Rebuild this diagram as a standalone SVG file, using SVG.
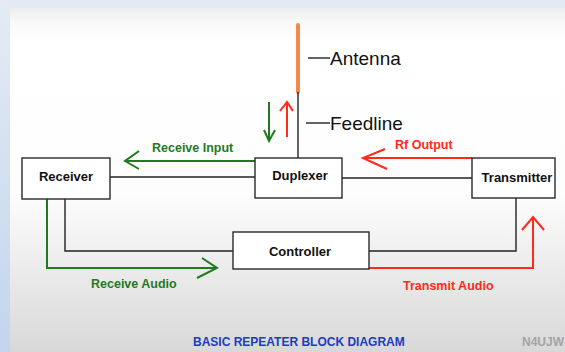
<svg xmlns="http://www.w3.org/2000/svg" width="565" height="352" viewBox="0 0 565 352">
  <defs>
    <linearGradient id="bg" x1="0" y1="0" x2="0" y2="1">
      <stop offset="0" stop-color="#e6e6e6"/>
      <stop offset="0.06" stop-color="#f8f8f8"/>
      <stop offset="0.12" stop-color="#ffffff"/>
      <stop offset="0.55" stop-color="#fdfdfd"/>
      <stop offset="1" stop-color="#d8d8d8"/>
    </linearGradient>
    <linearGradient id="side" x1="0" y1="0" x2="0" y2="1">
      <stop offset="0" stop-color="#e4ebf4"/>
      <stop offset="1" stop-color="#c3d5ec"/>
    </linearGradient>
  </defs>
  <style>
    .box { fill: #ffffff; stroke: #2a2a2a; stroke-width: 1.4; }
    .lbl { font-family: "Liberation Sans", Arial, sans-serif; font-weight: bold; font-size: 13px; fill: #111111; text-anchor: middle; }
    .big { font-family: "Liberation Sans", Arial, sans-serif; font-size: 19px; fill: #111111; }
    .wire { fill: none; stroke: #222222; stroke-width: 1.4; }
    .g { fill: none; stroke: #1f7a1f; stroke-width: 2; }
    .r { fill: none; stroke: #ff2a1a; stroke-width: 2; }
    .gt { font-family: "Liberation Sans", Arial, sans-serif; font-weight: bold; font-size: 12.5px; fill: #1f7a1f; }
    .rt { font-family: "Liberation Sans", Arial, sans-serif; font-weight: bold; font-size: 12.5px; fill: #ff2a1a; }
  </style>

  <rect x="0" y="0" width="565" height="352" fill="url(#bg)"/>
  <rect x="0" y="0" width="565" height="8" fill="#e3eaf3"/>
  <rect x="0" y="0" width="10" height="352" fill="url(#side)"/>

  <g id="connectors">
    <!-- antenna and feedline -->
    <line x1="298" y1="25" x2="298" y2="92" stroke="#f5894a" stroke-width="4" stroke-linecap="round"/>
    <line class="wire" x1="298" y1="92" x2="298" y2="158"/>
    <line class="wire" x1="308" y1="58" x2="330" y2="58"/>
    <line class="wire" x1="306" y1="123" x2="330" y2="123"/>
    <!-- black wires -->
    <line class="wire" x1="110" y1="177" x2="255" y2="177"/>
    <line class="wire" x1="342" y1="178" x2="472" y2="178"/>
    <polyline class="wire" points="65,199 65,251 233,251"/>
    <polyline class="wire" points="369,251 516,251 516,198"/>
    <!-- feedline arrows -->
    <line class="g" x1="269" y1="102" x2="269" y2="141"/>
    <polyline class="g" points="264,130 269,141 275,130"/>
    <line class="r" x1="287" y1="137" x2="287" y2="102"/>
    <polyline class="r" points="280,111 287,102 293,111"/>
    <!-- receive input -->
    <line class="g" x1="125" y1="161" x2="255" y2="161"/>
    <polyline class="g" points="139,151 125,161 139,169"/>
    <!-- rf output -->
    <line class="r" x1="363" y1="158" x2="472" y2="158"/>
    <polyline class="r" points="385,149 363,158 387,169"/>
    <!-- receive audio -->
    <polyline class="g" points="47,199 47,268 217,268"/>
    <polyline class="g" points="202,258 217,268 197,278"/>
    <!-- transmit audio -->
    <polyline class="r" points="369,268 533,268 533,217"/>
    <polyline class="r" points="522,230 533,217 544,230"/>
  </g>

  <g id="receiver">
    <rect class="box" x="22" y="158" width="88" height="41"/>
    <text class="lbl" x="66" y="181">Receiver</text>
  </g>
  <g id="duplexer">
    <rect class="box" x="255" y="158" width="87" height="40"/>
    <text class="lbl" x="300" y="180">Duplexer</text>
  </g>
  <g id="transmitter">
    <rect class="box" x="472" y="158" width="83" height="40"/>
    <text class="lbl" x="517" y="182">Transmitter</text>
  </g>
  <g id="controller">
    <rect class="box" x="233" y="232" width="136" height="37"/>
    <text class="lbl" x="300" y="256">Controller</text>
  </g>

  <g id="labels">
    <text class="big" x="330" y="65">Antenna</text>
    <text class="big" x="330" y="130">Feedline</text>
    <text class="gt" x="152" y="152">Receive Input</text>
    <text class="rt" x="395" y="149">Rf Output</text>
    <text class="gt" x="91" y="288">Receive Audio</text>
    <text class="rt" x="403" y="290">Transmit Audio</text>
    <text x="193" y="346" font-family="Liberation Sans, Arial, sans-serif" font-weight="bold" font-size="12" fill="#1c3cc4">BASIC REPEATER BLOCK DIAGRAM</text>
    <text x="522" y="346" font-family="Liberation Sans, Arial, sans-serif" font-weight="bold" font-size="12" fill="#a4a4a4">N4UJW</text>
  </g>
</svg>
